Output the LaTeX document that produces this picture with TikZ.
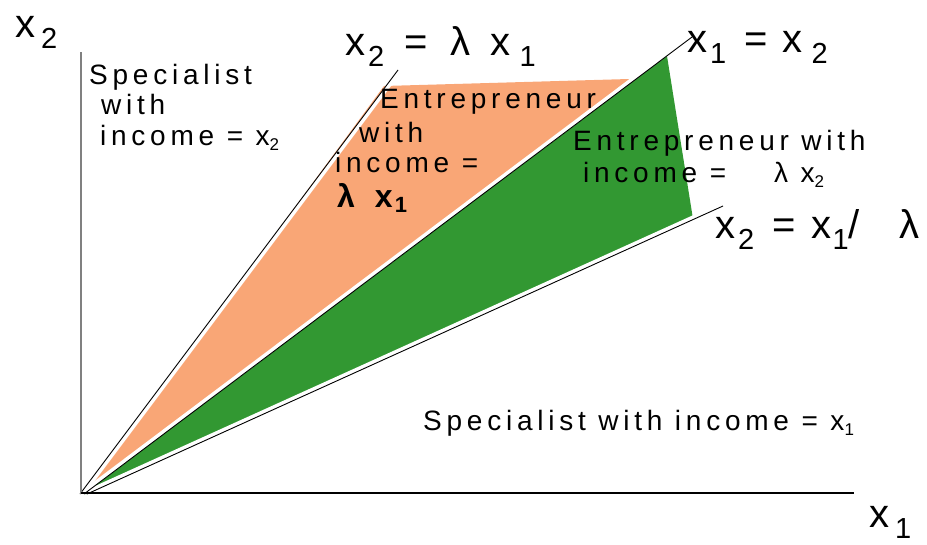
\documentclass[tikz,border=0pt]{standalone}
\usepackage{fontspec}
\setmainfont{Liberation Sans}
\newfontfamily\spcfont[LetterSpace=17]{Liberation Sans}
\newcommand{\ssub}[1]{\raisebox{-5pt}{\fontsize{17}{17}\selectfont #1}}
\newcommand{\bsub}[1]{\raisebox{-11pt}{\fontsize{29}{29}\selectfont #1}}
\definecolor{orfill}{RGB}{249,166,118}
\definecolor{grfill}{RGB}{50,152,50}
\definecolor{axgray}{RGB}{128,128,128}
\begin{document}
\begin{tikzpicture}[x=1pt,y=-1pt,
  small/.style={inner sep=0pt, anchor=base west, font=\spcfont\fontsize{28}{28}\selectfont},
  big/.style={inner sep=0pt, anchor=base west, font=\fontsize{40}{40}\selectfont},
  ray/.style={black, line width=0.9pt},
  band/.style={white, line width=4pt}]
\useasboundingbox (0,0) rectangle (927,544);
% key points
\coordinate (O1) at (80,494);
\coordinate (O2) at (84,494);
\coordinate (O3) at (87,494);
\coordinate (A) at (398,70);
\coordinate (B) at (692,37);
\coordinate (C) at (723,206);
% regions
\fill[orfill] (O2) -- (384,86) -- (629,79) -- (634,81) -- cycle;
\fill[grfill] (O2) -- (667,56) -- (693,219) -- (O3) -- cycle;
% white bands beside the rays
\draw[band, transform canvas={shift={(1.6,1.2)}}] (O1) -- (A);
\draw[band, transform canvas={shift={(-1.2,-1.6)}}] (O2) -- (B);
\draw[band, transform canvas={shift={(-0.8,-1.8)}}] (O3) -- (C);
% rays
\draw[ray] (O1) -- (A);
\draw[ray] (O2) -- (B);
\draw[ray] (O3) -- (C);
% axes
\coordinate (Ytop) at (81,52);
\coordinate (Yo) at (81,494);
\coordinate (Xo) at (81,493);
\coordinate (Xend) at (854,493);
\draw[axgray, line width=1.5pt] (Yo) -- (Ytop);
\draw[black, line width=1.3pt] (Xo) -- (Xend);
% big labels
\node[big] (x2lab) at (15,37) {x\hspace{6pt}\bsub{2}};
\node[big] (l1lab) at (345,55) {x\hspace{3pt}\bsub{2}\hspace{20pt}=\hspace{23pt}λ\hspace{20pt}x\hspace{9pt}\bsub{1}};
\node[big] (l2lab) at (687,52) {x\hspace{3pt}\bsub{1}\hspace{18pt}=\hspace{15pt}x\hspace{9pt}\bsub{2}};
\node[big] (l3lab) at (715,238) {x\hspace{3pt}\bsub{2}\hspace{18pt}=\hspace{16pt}x\hspace{1pt}\bsub{1}/\hspace{40pt}λ};
\node[big] (x1lab) at (869,527) {x\hspace{6pt}\bsub{1}};
% region texts
\node[small] (s2a) at (89,84) {Specialist};
\node[small] (s2b) at (101,114) {with};
\node[small] (s2c) at (100,145) {income = x\ssub{2}};
\node[small] (e1a) at (380,108) {Entrepreneur};
\node[small] (e1b) at (359,142) {with};
\node[small] (e1c) at (335,172) {income =};
\node[inner sep=0pt, anchor=base west, font=\bfseries\fontsize{32}{32}\selectfont] (e1d) at (337,207) {λ\hspace{20pt}x\hspace{2pt}\raisebox{-5pt}{\fontsize{22}{22}\selectfont 1}};
\node[small] (e2a) at (573,150) {Entrepreneur with};
\node[small] (e2b) at (583,182) {income =\hspace{48pt}λ x\ssub{2}};
\node[small] (s1) at (423,430) {Specialist with income = x\ssub{1}};
\end{tikzpicture}
\end{document}
